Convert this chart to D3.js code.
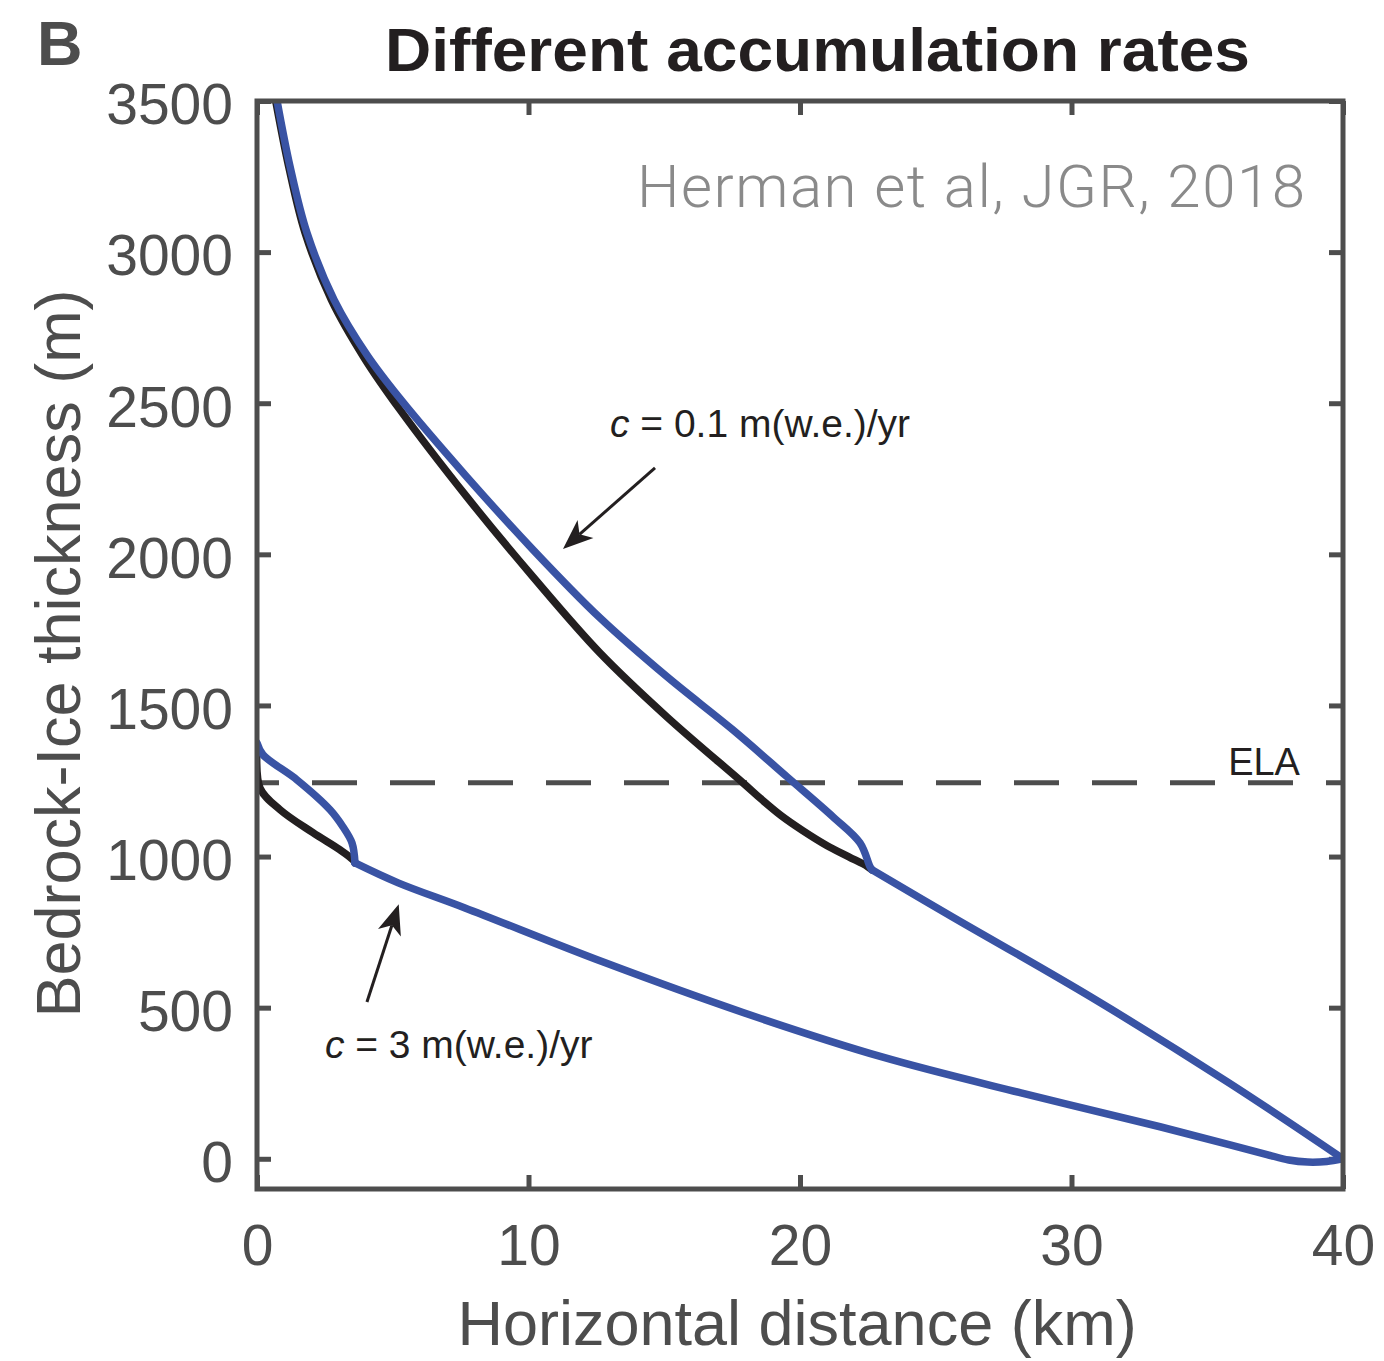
<!DOCTYPE html>
<html>
<head>
<meta charset="utf-8">
<script src="https://cdn.jsdelivr.net/npm/d3@7"></script>
<style>
  body { margin: 0; background: #fff; }
  svg text { font-family: "Liberation Sans", Arial, Helvetica, sans-serif; }
</style>
</head>
<body>
<div id="chart"></div>
<script>
// ---- Data: horizontal distance (km) vs bedrock-ice thickness (m)
const distanceTicks = [0, 10, 20, 30, 40];
const thicknessTicks = [0, 500, 1000, 1500, 2000, 2500, 3000, 3500];
const elaThickness = 1244;

// c = 0.1 m(w.e.)/yr: the two profiles split upstream of ~22.65 km
const lowRateBlack = [
  [0.69, 3500], [1.17, 3282], [1.77, 3064], [2.74, 2842], [3.95, 2650], [5.27, 2478],
  [7.73, 2190], [10.17, 1925], [12.63, 1674], [15.10, 1462], [17.90, 1244],
  [18.6, 1188], [19.3, 1136], [20.1, 1086], [21.0, 1036], [21.8, 999], [22.47, 968], [22.65, 956]
];
const lowRateBlue = [
  [0.74, 3500], [1.22, 3282], [1.84, 3064], [2.84, 2842], [4.05, 2660], [5.27, 2515],
  [7.73, 2256], [10.17, 2015], [12.63, 1790], [15.10, 1595], [17.53, 1419],
  [19.52, 1264], [21.22, 1131], [22.21, 1045], [22.58, 966], [22.65, 956]
];
const lowRateTail = [[22.65, 956], [25.6, 801], [30.7, 536], [35.8, 251], [40, 0]];

// c = 3 m(w.e.)/yr: the two profiles split upstream of ~3.6 km
const highRateBlack = [
  [0, 1363], [0.11, 1227], [0.85, 1155], [2.06, 1079], [3.06, 1022], [3.54, 989], [3.61, 979]
];
const highRateBlue = [
  [0, 1376], [0.22, 1337], [1.47, 1254], [2.69, 1155], [3.17, 1098], [3.50, 1045], [3.61, 979]
];
const highRateTail = [
  [3.61, 979], [5.2, 913], [7.66, 830], [12.78, 650], [17.90, 484], [23.02, 337],
  [28.14, 218], [33.26, 106], [35.84, 46], [37.2, 14], [38.0, -4], [38.7, -11],
  [39.4, -9], [40, 0]
];

// ---- Layout
const W = 1384, H = 1361;
const margin = { left: 257, right: 41, top: 101, bottom: 172 };
const axisColor = '#4d4d4d';
const inkColor = '#231f20';
const blueColor = '#3953a4';

const x = d3.scaleLinear().domain([0, 40]).range([margin.left, W - margin.right]);
const y = d3.scaleLinear().domain([-100, 3500]).range([H - margin.bottom, margin.top]);

const svg = d3.select('#chart').append('svg')
  .attr('width', W).attr('height', H)
  .style('display', 'block');

svg.append('defs').append('clipPath').attr('id', 'plotClip')
  .append('rect')
  .attr('x', x(0)).attr('y', y(3500))
  .attr('width', x(40) - x(0)).attr('height', y(-100) - y(3500));

// ---- Axes (ticks inward on all four sides)
function styleAxis(g) {
  g.select('.domain').remove();
  g.selectAll('.tick line').attr('stroke', axisColor).attr('stroke-width', 5);
  g.selectAll('.tick text')
    .attr('fill', axisColor)
    .style('font-size', '57px');
}

svg.append('g')
  .attr('transform', `translate(0,${y(-100)})`)
  .call(d3.axisBottom(x).tickValues(distanceTicks).tickSize(-14).tickPadding(36).tickFormat(d3.format('d')))
  .call(styleAxis);

svg.append('g')
  .attr('transform', `translate(0,${y(3500)})`)
  .call(d3.axisTop(x).tickValues(distanceTicks).tickSize(-14).tickFormat(''))
  .call(styleAxis);

svg.append('g')
  .attr('transform', `translate(${x(0)},0)`)
  .call(d3.axisLeft(y).tickValues(thicknessTicks).tickSize(-14).tickPadding(24).tickFormat(d3.format('d')))
  .call(styleAxis)
  .selectAll('.tick text').attr('dy', '0.4em');

svg.append('g')
  .attr('transform', `translate(${x(40)},0)`)
  .call(d3.axisRight(y).tickValues(thicknessTicks).tickSize(-14).tickFormat(''))
  .call(styleAxis);

// ---- ELA dashed line
svg.append('line')
  .attr('x1', x(0)).attr('x2', x(40))
  .attr('y1', y(elaThickness)).attr('y2', y(elaThickness))
  .attr('stroke', axisColor)
  .attr('stroke-width', 5)
  .attr('stroke-dasharray', '45,33')
  .attr('stroke-dashoffset', 23);

// ---- Profiles
const line = d3.line()
  .x(d => x(d[0]))
  .y(d => y(d[1]))
  .curve(d3.curveCatmullRom.alpha(0.5));

const profiles = svg.append('g').attr('clip-path', 'url(#plotClip)');
[
  { data: lowRateBlack, color: inkColor },
  { data: highRateBlack, color: inkColor },
  { data: lowRateBlue, color: blueColor },
  { data: highRateBlue, color: blueColor },
  { data: lowRateTail, color: blueColor },
  { data: highRateTail, color: blueColor }
].forEach(p => {
  profiles.append('path')
    .attr('d', line(p.data))
    .attr('fill', 'none')
    .attr('stroke', p.color)
    .attr('stroke-width', 7.5)
    .attr('stroke-linecap', 'round')
    .attr('stroke-linejoin', 'round');
});

// ---- Box
svg.append('rect')
  .attr('x', x(0)).attr('y', y(3500))
  .attr('width', x(40) - x(0)).attr('height', y(-100) - y(3500))
  .attr('fill', 'none')
  .attr('stroke', axisColor)
  .attr('stroke-width', 5);

// ---- Arrows
function arrow(from, to) {
  const x1 = x(from[0]), y1 = y(from[1]);
  const x2 = x(to[0]), y2 = y(to[1]);
  const a = Math.atan2(y2 - y1, x2 - x1);
  const len = 30, half = 12, notch = 22;
  const ux = Math.cos(a), uy = Math.sin(a);
  const px = -uy, py = ux;
  const bx = x2 - ux * len, by = y2 - uy * len;
  const nx = x2 - ux * notch, ny = y2 - uy * notch;
  svg.append('line')
    .attr('x1', x1).attr('y1', y1).attr('x2', nx).attr('y2', ny)
    .attr('stroke', inkColor).attr('stroke-width', 3);
  svg.append('path')
    .attr('d', `M${x2},${y2}L${bx + px * half},${by + py * half}L${nx},${ny}L${bx - px * half},${by - py * half}Z`)
    .attr('fill', inkColor);
}
arrow([14.66, 2286], [11.27, 2018]);
arrow([4.05, 519], [5.22, 842]);

// ---- Annotations
function rateLabel(xv, yv, value) {
  const t = svg.append('text')
    .attr('x', x(xv)).attr('y', y(yv))
    .attr('fill', inkColor)
    .style('font-size', '39px');
  t.append('tspan').style('font-style', 'italic').text('c');
  t.append('tspan').text(` = ${value} m(w.e.)/yr`);
}
rateLabel(13.0, 2389, '0.1');
rateLabel(2.5, 334, '3');

svg.append('text')
  .attr('x', x(35.77)).attr('y', y(1271))
  .attr('fill', inkColor)
  .style('font-size', '38px')
  .text('ELA');

svg.append('text')
  .attr('x', 1305).attr('y', 207)
  .attr('text-anchor', 'end')
  .attr('fill', '#8a8a8a')
  .attr('textLength', 668)
  .style('font-family', 'Roboto, "Liberation Sans", sans-serif')
  .style('font-weight', 300)
  .style('font-size', '60px')
  .text('Herman et al, JGR, 2018');

// ---- Titles
svg.append('text')
  .attr('x', 37).attr('y', 65)
  .attr('fill', axisColor)
  .style('font-weight', 'bold')
  .style('font-size', '63px')
  .text('B');

svg.append('text')
  .attr('x', 385).attr('y', 71)
  .attr('fill', inkColor)
  .attr('textLength', 865)
  .attr('lengthAdjust', 'spacingAndGlyphs')
  .style('font-weight', 'bold')
  .style('font-size', '61px')
  .text('Different accumulation rates');

svg.append('text')
  .attr('x', (x(0) + x(40)) / 2 - 3).attr('y', 1345)
  .attr('text-anchor', 'middle')
  .attr('fill', axisColor)
  .style('font-size', '63px')
  .text('Horizontal distance (km)');

svg.append('text')
  .attr('transform', `translate(80,${(285 + 1022) / 2}) rotate(-90)`)
  .attr('text-anchor', 'middle')
  .attr('fill', axisColor)
  .style('font-size', '63px')
  .text('Bedrock-Ice thickness (m)');
</script>
</body>
</html>
